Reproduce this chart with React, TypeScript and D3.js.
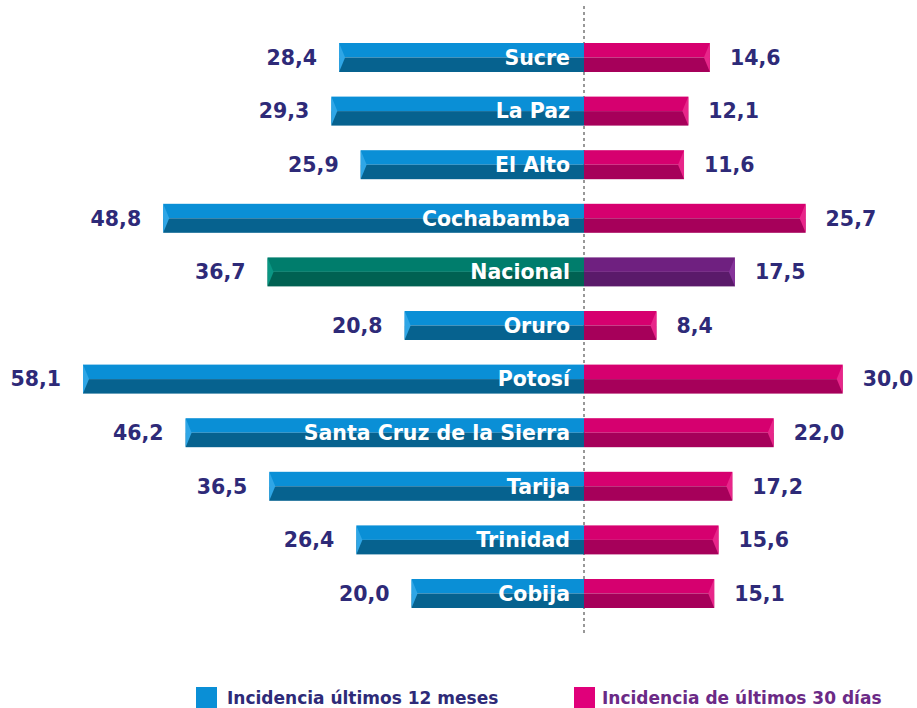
import React from 'react';
import { scaleLinear, scalePoint } from 'd3';

const cities = ['Sucre', 'La Paz', 'El Alto', 'Cochabamba', 'Nacional', 'Oruro', 'Potosí', 'Santa Cruz de la Sierra', 'Tarija', 'Trinidad', 'Cobija'];
const last12 = [28.4, 29.3, 25.9, 48.8, 36.7, 20.8, 58.1, 46.2, 36.5, 26.4, 20.0];
const last30 = [14.6, 12.1, 11.6, 25.7, 17.5, 8.4, 30.0, 22.0, 17.2, 15.6, 15.1];
const legendLabels = ['Incidencia últimos 12 meses', 'Incidencia de últimos 30 días'];

const fmt = (v: number) => v.toFixed(1).replace('.', ',');

const W = 917;
const H = 708;
const cx = 584;
const font = "'DejaVu Sans', sans-serif";
const valueColor = '#2e2a78';

export default function App() {
  const x = scaleLinear().domain([0, 58.1]).range([0, 501]);
  const y = scalePoint<string>().domain(cities).range([57.5, 593.5]);
  const bh = 29;

  return (
    <svg width={W} height={H} style={{ position: 'absolute', left: 0, top: 0 }}>
      <line x1={cx} x2={cx} y1={6} y2={636} stroke="#777" strokeWidth={1.5} strokeDasharray="3,3" />
      {cities.map((c, i) => {
        const yc = y(c)!;
        const y0 = yc - bh / 2;
        const nat = c === 'Nacional';
        const lTop = nat ? '#007d6c' : '#0a8fd6';
        const lBot = nat ? '#006152' : '#06628f';
        const rTop = nat ? '#6f2080' : '#d6006f';
        const rBot = nat ? '#5a1a6a' : '#a6005a';
        const lw = x(last12[i]);
        const rw = x(last30[i]);
        const lx = cx - lw;
        const rx = cx + rw;
        const half = bh / 2;
        return (
          <g key={c}>
            <rect x={lx} y={y0} width={lw} height={half} fill={lTop} />
            <rect x={lx} y={y0 + half} width={lw} height={half} fill={lBot} />
            <polygon points={`${lx},${y0} ${lx + 6},${y0 + half} ${lx},${y0 + bh}`} fill={nat ? '#0a9683' : '#2fa6e6'} />
            <rect x={cx} y={y0} width={rw} height={half} fill={rTop} />
            <rect x={cx} y={y0 + half} width={rw} height={half} fill={rBot} />
            <polygon points={`${rx},${y0} ${rx - 6},${y0 + half} ${rx},${y0 + bh}`} fill={nat ? '#86349a' : '#e8268a'} />
            <text x={cx - 14} y={yc} dy="0.36em" textAnchor="end" fill="#fff" fontFamily={font} fontWeight={700} fontSize={20.5}>{c}</text>
            <text x={lx - 22} y={yc} dy="0.36em" textAnchor="end" fill={valueColor} fontFamily={font} fontWeight={700} fontSize={20.5}>{fmt(last12[i])}</text>
            <text x={rx + 20} y={yc} dy="0.36em" textAnchor="start" fill={valueColor} fontFamily={font} fontWeight={700} fontSize={20.5}>{fmt(last30[i])}</text>
          </g>
        );
      })}
      <rect x={196} y={687} width={21} height={21} fill="#0a8fd6" />
      <text x={227} y={698} dy="0.36em" fill={valueColor} fontFamily={font} fontWeight={700} fontSize={17}>{legendLabels[0]}</text>
      <rect x={574} y={687} width={21} height={21} fill="#e0007a" />
      <text x={602} y={698} dy="0.36em" fill="#6b2a86" fontFamily={font} fontWeight={700} fontSize={17}>{legendLabels[1]}</text>
    </svg>
  );
}
